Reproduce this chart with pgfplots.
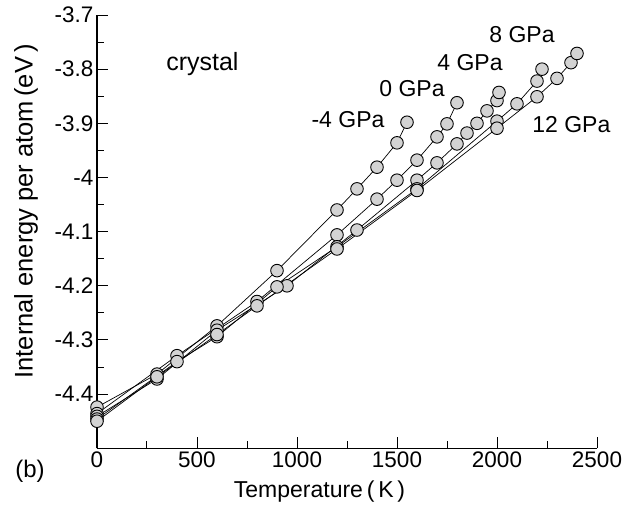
\documentclass[border=0pt]{standalone}
\usepackage{fontspec}
\setmainfont{Liberation Sans}
\usepackage{pgfplots}
\pgfplotsset{compat=1.18}
\definecolor{markgray}{HTML}{D3D3D3}

% internal energy of the crystal vs temperature at several pressures
\pgfplotstableread{
T E
0 -4.424
300 -4.363
600 -4.274
900 -4.172
1200 -4.060
1300 -4.021
1400 -3.981
1500 -3.936
1550 -3.898
}\pmfour
\pgfplotstableread{
T E
0 -4.436
400 -4.329
800 -4.229
1200 -4.106
1400 -4.040
1500 -4.005
1600 -3.968
1700 -3.925
1750 -3.901
1800 -3.862
}\pzero
\pgfplotstableread{
T E
0 -4.441
300 -4.372
600 -4.282
950 -4.200
1300 -4.097
1600 -4.005
1700 -3.973
1800 -3.938
1850 -3.918
1900 -3.900
1950 -3.877
2000 -3.858
2010 -3.843
}\pfour
\pgfplotstableread{
T E
0 -4.446
400 -4.340
600 -4.294
900 -4.202
1200 -4.128
1600 -4.021
2000 -3.896
2100 -3.864
2200 -3.822
2225 -3.800
}\peight
\pgfplotstableread{
T E
0 -4.450
300 -4.368
600 -4.290
800 -4.237
1200 -4.132
1600 -4.024
2000 -3.909
2200 -3.851
2300 -3.817
2370 -3.788
2400 -3.771
}\ptwelve

\tikzset{ser/.style={black, line width=0.7pt, mark=*, mark size=6.3pt,
    mark options={fill=markgray, draw=black, line width=0.9pt, solid}}}

\begin{document}
\begin{tikzpicture}[x=1pt,y=1pt]
\path[use as bounding box] (0,0) rectangle (641,518);
\begin{axis}[
  at={(97pt,69.7pt)}, anchor=south west,
  scale only axis, width=500pt, height=433.3pt,
  xmin=0, xmax=2500, ymin=-4.5, ymax=-3.7,
  axis x line*=bottom, axis y line*=left,
  axis line style={line width=1.1pt, black},
  xtick={0,500,1000,1500,2000,2500},
  ytick={-4.4,-4.3,-4.2,-4.1,-4.0,-3.9,-3.8,-3.7},
  minor x tick num=1, minor y tick num=1,
  tick align=inside, major tick length=11pt, minor tick length=7.5pt,
  every tick/.style={line width=1pt, black},
  /pgf/number format/assume math mode=true,
  /pgf/number format/set thousands separator={},
  yticklabel style={/pgf/number format/fixed, /pgf/number format/precision=1},
  ticklabel style={font=\fontsize{22.5}{25}\selectfont},
  xlabel={Temperature\,(\,K\,)},
  ylabel={Internal energy per atom\,(eV\,)},
  every axis x label/.style={at={(axis description cs:0.445,-0.1)}, anchor=center,
    font=\fontsize{23}{27}\selectfont},
  every axis y label/.style={at={(axis description cs:-0.142,0.547)}, rotate=90, anchor=center,
    font=\fontsize{25.5}{29}\selectfont},
  clip=false,
]
\addplot[ser] table[x=T,y=E] {\pmfour};
\addplot[ser] table[x=T,y=E] {\pzero};
\addplot[ser] table[x=T,y=E] {\pfour};
\addplot[ser] table[x=T,y=E] {\peight};
\addplot[ser] table[x=T,y=E] {\ptwelve};

\begin{scope}[font=\fontsize{23}{26}\selectfont]
\node at (axis cs:1255,-3.894) {-4 GPa};
\node at (axis cs:1575,-3.835) {0 GPa};
\node at (axis cs:1865,-3.7886) {4 GPa};
\node at (axis cs:2125,-3.737) {8 GPa};
\node at (axis cs:2372,-3.902) {12 GPa};
\end{scope}
\node[font=\fontsize{25}{28}\selectfont] at (axis cs:527,-3.7914) {crystal};
\node[font=\fontsize{24}{28}\selectfont] at (axis description cs:-0.134,-0.052) {(b)};
\end{axis}
\end{tikzpicture}
\end{document}
